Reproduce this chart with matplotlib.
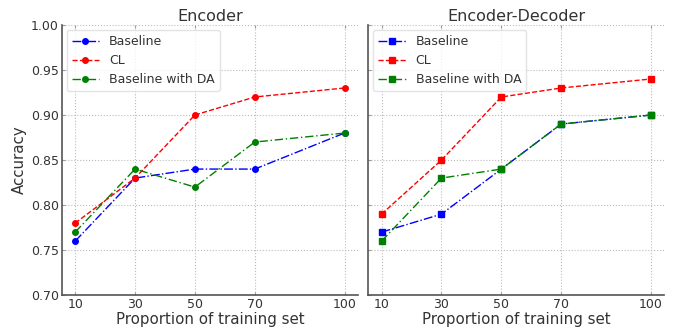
import numpy as np
import matplotlib
matplotlib.use("Agg")
import matplotlib.pyplot as plt

proportions = [10, 30, 50, 70, 100]

enc_baseline = [0.76, 0.83, 0.84, 0.84, 0.88]
enc_cl = [0.78, 0.83, 0.90, 0.92, 0.93]
enc_da = [0.77, 0.84, 0.82, 0.87, 0.88]

encdec_baseline = [0.77, 0.79, 0.84, 0.89, 0.90]
encdec_cl = [0.79, 0.85, 0.92, 0.93, 0.94]
encdec_da = [0.76, 0.83, 0.84, 0.89, 0.90]

labels = ["Baseline", "CL", "Baseline with DA"]
titles = ["Encoder", "Encoder-Decoder"]
yticks = [0.70, 0.75, 0.80, 0.85, 0.90, 0.95, 1.00]

txt = "#333333"
plt.rcParams["text.color"] = txt
plt.rcParams["axes.labelcolor"] = txt
plt.rcParams["xtick.color"] = txt
plt.rcParams["ytick.color"] = txt

fig, axes = plt.subplots(1, 2, figsize=(6.78, 3.28), dpi=100, sharey=True)
fig.subplots_adjust(left=0.091, right=0.980, top=0.924, bottom=0.100, wspace=0.034)

panels = [(enc_baseline, enc_cl, enc_da, "o"), (encdec_baseline, encdec_cl, encdec_da, "s")]

for ax, (base, cl, da, mk), title in zip(axes, panels, titles):
    ax.plot(proportions, base, color="blue", linestyle="-.", marker=mk, markersize=4, lw=1, label=labels[0])
    ax.plot(proportions, cl, color="red", linestyle="--", marker=mk, markersize=4, lw=1, label=labels[1])
    ax.plot(proportions, da, color="green", linestyle=(0, (6, 2, 1, 2)), marker=mk, markersize=4, lw=1, label=labels[2])
    ax.set_title(title, fontsize=11.5, color=txt, pad=3)
    ax.set_xticks(proportions)
    ax.set_xlabel("Proportion of training set", fontsize=10.8, labelpad=1)
    ax.set_ylim(0.70, 1.00)
    ax.set_yticks(yticks)
    ax.grid(True, linestyle=":", color="#bbbbbb", lw=0.8)
    for s in ["top", "right"]:
        ax.spines[s].set_visible(False)
    for s in ["left", "bottom"]:
        ax.spines[s].set_color("#555555")
        ax.spines[s].set_linewidth(1.2)
    ax.tick_params(labelsize=9, length=2.5, direction="in", color="#999999", pad=2, top=True)
    leg = ax.legend(loc="upper left", fontsize=9, framealpha=0.8, edgecolor="#dddddd",
                    fancybox=True, borderaxespad=0.4, handlelength=2.2)

axes[0].set_ylabel("Accuracy", fontsize=10.8, labelpad=3)
axes[0].yaxis.set_major_formatter(matplotlib.ticker.FormatStrFormatter("%.2f"))

fig.savefig("out.png", dpi=100)
